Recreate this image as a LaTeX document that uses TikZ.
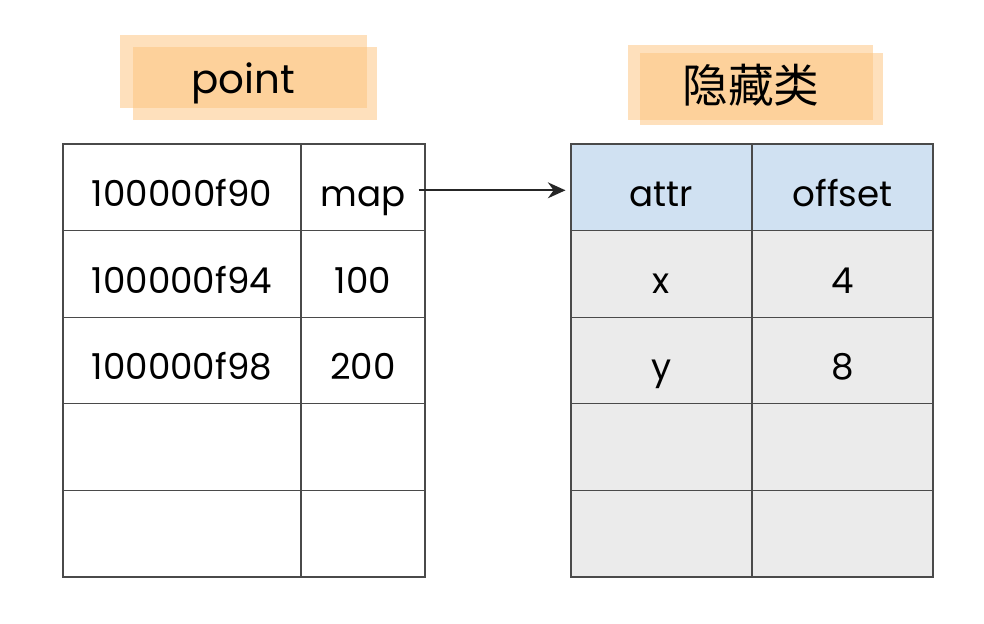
\documentclass[tikz,border=0pt]{standalone}
\usepackage{fontspec}
\setmainfont{Poppins}
\newfontfamily\cjk{Noto Sans CJK SC}
\usepackage{xcolor}
\usetikzlibrary{arrows.meta,positioning}
\definecolor{linegray}{HTML}{4A4A4A}
\definecolor{hdrblue}{HTML}{D0E1F2}
\definecolor{cellgray}{HTML}{EBEBEB}
\definecolor{tagorange}{HTML}{FDC27A}

\begin{document}
\begin{tikzpicture}[x=0.02cm, y=-0.02cm, >={Stealth[length=10pt,width=9pt]},
    font=\fontsize{20.3}{24}\selectfont,
    cell/.style={draw=linegray, line width=0.6pt, minimum height=1.732cm, inner sep=0pt,
      text height=23pt, text depth=1pt},
    tag/.style={fill=tagorange, fill opacity=0.5}]
  \useasboundingbox (0,0) rectangle (984,623);
  % title tags
  \fill[tag] (120,35) rectangle (367,108);
  \fill[tag] (133,47) rectangle (377,120);
  \fill[tag] (628,45) rectangle (873,120);
  \fill[tag] (640,53) rectangle (883,125);
  \node[font=\fontsize{23}{27}\selectfont, text height=16pt, text depth=4pt] (ptitle) at (243,83) {point};
  \node[font=\fontsize{26}{30}\selectfont\cjk] (htitle) at (751,85) {隐藏类};
  % point object
  \foreach \r/\addr/\val in {1/100000f90/map,2/100000f94/100,3/100000f98/200,4//,5//} {
    \node[cell, minimum width=4.76cm] (addr\r) at (182,{144+86.6*(\r-0.5)}) {\addr};
    \node[cell, minimum width=2.48cm] (val\r) at (363,{144+86.6*(\r-0.5)}) {\val};
  }
  % hidden class
  \foreach \r/\key/\off in {1/attr/offset,2/x/4,3/y/8,4//,5//} {
    \ifnum\r=1 \def\bg{hdrblue}\else \def\bg{cellgray}\fi
    \node[cell, fill=\bg, minimum width=3.62cm] (key\r) at (661.5,{144+86.6*(\r-0.5)}) {\key};
    \node[cell, fill=\bg, minimum width=3.62cm] (off\r) at (842.5,{144+86.6*(\r-0.5)}) {\off};
  }
  \draw[->, line width=1.3pt, black!85] ([xshift=-0.14cm,yshift=-0.06cm]val1.east) -- ([xshift=-0.1cm,yshift=-0.06cm]key1.west);
\end{tikzpicture}
\end{document}
